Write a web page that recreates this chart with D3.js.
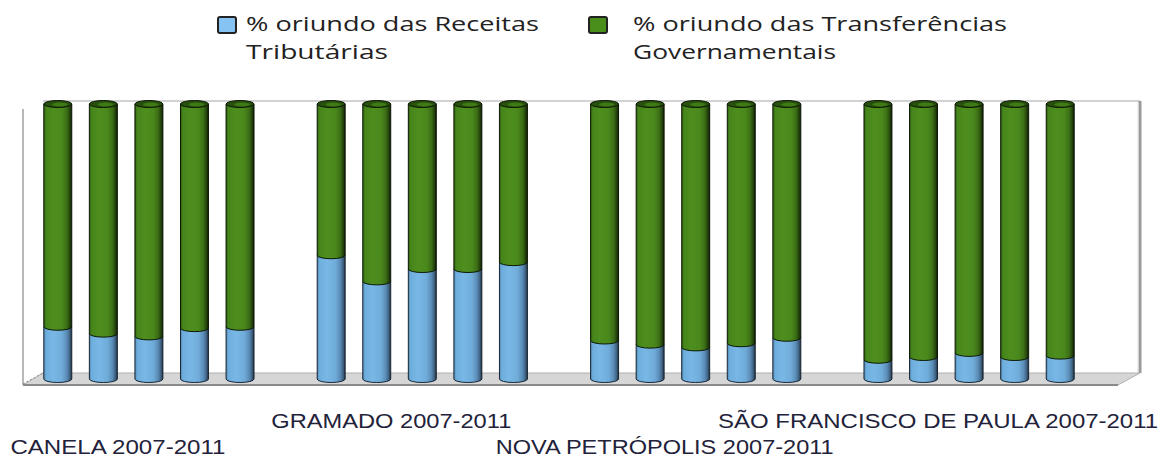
<!DOCTYPE html>
<html>
<head>
<meta charset="utf-8">
<script src="https://cdn.jsdelivr.net/npm/d3@7"></script>
<style>
  html, body { margin: 0; padding: 0; background: #fff; }
  svg { display: block; }
</style>
</head>
<body>
<svg id="chart" width="1172" height="459"></svg>
<script>
// ---- data ----
const groups = ["CANELA 2007-2011", "GRAMADO 2007-2011", "NOVA PETRÓPOLIS 2007-2011", "SÃO FRANCISCO DE PAULA 2007-2011"];
const years = ["2007", "2008", "2009", "2010", "2011"];
const seriesNames = ["% oriundo das Receitas Tributárias", "% oriundo das Transferências Governamentais"];
const legendLines = [["% oriundo das Receitas", "Tributárias"], ["% oriundo das Transferências", "Governamentais"]];
const tributarias = [
  [19.0, 16.5, 15.5, 18.5, 19.0],
  [45.0, 35.5, 40.0, 40.0, 42.5],
  [14.0, 12.5, 11.5, 13.0, 15.0],
  [7.0, 8.0, 9.5, 8.0, 8.5]
];
const transferencias = [
  [81.0, 83.5, 84.5, 81.5, 81.0],
  [55.0, 64.5, 60.0, 60.0, 57.5],
  [86.0, 87.5, 88.5, 87.0, 85.0],
  [93.0, 92.0, 90.5, 92.0, 91.5]
];

// ---- styles ----
const labelWidths = [215, 240, 338, 440];
const legendWidths = [[293, 142], [374, 203]];

const svg = d3.select("#chart");
const defs = svg.append("defs");

function cylGrad(id, stops) {
  const g = defs.append("linearGradient").attr("id", id).attr("x1", "0%").attr("x2", "100%").attr("y1", "0%").attr("y2", "0%");
  stops.forEach(s => g.append("stop").attr("offset", s[0]).attr("stop-color", s[1]));
}
cylGrad("gBlue", [["0%", "#4f84ad"], ["8%", "#6eaedc"], ["35%", "#78b7e6"], ["65%", "#70acd9"], ["82%", "#5b8db8"], ["93%", "#3f6282"], ["100%", "#1c2c3a"]]);
cylGrad("gGreen", [["0%", "#2e5b10"], ["8%", "#46851a"], ["35%", "#4e8e1e"], ["65%", "#4a881c"], ["82%", "#3c6f16"], ["93%", "#24440c"], ["100%", "#0b1604"]]);

const y = d3.scaleLinear().domain([0, 100]).range([379, 104]);
const x0 = d3.scaleBand().domain(groups).range([35, 1083]).paddingInner(0.1667).paddingOuter(0);
const x1 = d3.scaleBand().domain(years).range([0, x0.bandwidth()]).paddingInner(0.386).paddingOuter(0.193);

// ---- walls / floor ----
const wallL = 43, wallR = 1140, wallT = 101, floorT = 373, floorB = 385, axisX = 23;
svg.append("line").attr("x1", wallL).attr("x2", wallR).attr("y1", wallT).attr("y2", wallT)
  .attr("stroke", "#c4c4c4").attr("stroke-width", 1.5);
svg.append("line").attr("x1", wallR).attr("x2", wallR).attr("y1", wallT).attr("y2", floorT)
  .attr("stroke", "#9a9a9a").attr("stroke-width", 3);
svg.append("line").attr("x1", wallR - 2).attr("x2", wallR - 2).attr("y1", wallT + 1).attr("y2", floorT)
  .attr("stroke", "#dcdcdc").attr("stroke-width", 1);
svg.append("polygon")
  .attr("points", [[axisX, floorB], [wallR - 22, floorB], [wallR, floorT], [wallL, floorT]].map(p => p.join(",")).join(" "))
  .attr("fill", "#d6d6d6").attr("stroke", "#b0b0b0").attr("stroke-width", 1);
svg.append("line").attr("x1", axisX).attr("x2", wallR - 22).attr("y1", floorB).attr("y2", floorB)
  .attr("stroke", "#8a8a8a").attr("stroke-width", 2);
svg.append("line").attr("x1", axisX).attr("x2", axisX).attr("y1", 109).attr("y2", floorB)
  .attr("stroke", "#a0a0a0").attr("stroke-width", 1.5);
svg.append("line").attr("x1", axisX).attr("x2", wallL).attr("y1", floorB - 1).attr("y2", floorT)
  .attr("stroke", "#888").attr("stroke-width", 1).attr("stroke-dasharray", "2,2");

// ---- bars (stacked cylinders) ----
const stackKeys = ["trib", "transf"];
const rows = [];
groups.forEach((g, gi) => years.forEach((yr, yi) => {
  rows.push({ group: g, year: yr, trib: tributarias[gi][yi], transf: transferencias[gi][yi] });
}));
const stacked = d3.stack().keys(stackKeys)(rows);
const ry = 3.5;

function segPath(cx, rx, yTop, yBot) {
  return `M${cx - rx},${yTop} L${cx - rx},${yBot} A${rx},${ry} 0 0 0 ${cx + rx},${yBot} L${cx + rx},${yTop} Z`;
}

const barG = svg.append("g");
rows.forEach((r, i) => {
  const cx = x0(r.group) + x1(r.year) + x1.bandwidth() / 2;
  const rx = x1.bandwidth() / 2;
  const g = barG.append("g");
  const sb = stacked[0][i];
  g.append("path").attr("d", segPath(cx, rx, y(sb[1]), y(sb[0])))
    .attr("fill", "url(#gBlue)").attr("stroke", "#1a2633").attr("stroke-width", 1);
  const sg = stacked[1][i];
  g.append("path").attr("d", segPath(cx, rx, y(sg[1]), y(sg[0])))
    .attr("fill", "url(#gGreen)").attr("stroke", "#0c1805").attr("stroke-width", 1);
  g.append("ellipse").attr("cx", cx).attr("cy", y(sg[1])).attr("rx", rx).attr("ry", ry)
    .attr("fill", "#28500d").attr("stroke", "#0c1805").attr("stroke-width", 1);
  g.append("ellipse").attr("cx", cx + 2).attr("cy", y(sg[1]) + 0.5).attr("rx", rx * 0.55).attr("ry", ry * 0.55)
    .attr("fill", "#3f7a17");
});

// ---- category labels ----
svg.append("g").selectAll("text").data(groups).join("text")
  .attr("x", d => x0(d) + x0.bandwidth() / 2 - 31)
  .attr("y", (d, i) => i % 2 === 0 ? 454 : 428)
  .attr("text-anchor", "middle")
  .attr("font-family", "Liberation Sans, Arial, sans-serif")
  .attr("font-size", 21)
  .attr("fill", "#22223a")
  .attr("textLength", (d, i) => labelWidths[i])
  .attr("lengthAdjust", "spacingAndGlyphs")
  .text(d => d);

// ---- legend ----
const legendColor = d3.scaleOrdinal().domain(seriesNames).range(["#86c3f2", "#4a8f1c"]);
const legendX = [218, 589];
const leg = svg.append("g").selectAll("g").data(seriesNames).join("g")
  .attr("transform", (d, i) => `translate(${legendX[i]},0)`);
leg.append("rect").attr("x", 0).attr("y", 17).attr("width", 18).attr("height", 16).attr("rx", 2)
  .attr("fill", d => legendColor(d)).attr("stroke", "#222").attr("stroke-width", 2);
leg.each(function (d, i) {
  const t = d3.select(this);
  legendLines[i].forEach((line, li) => {
    t.append("text")
      .attr("x", i === 0 ? 28 : 44)
      .attr("y", 31 + li * 28)
      .attr("font-family", "Open Sans, Noto Sans, sans-serif")
      .attr("font-size", 20)
      .attr("fill", "#222")
      .attr("textLength", legendWidths[i][li])
      .attr("lengthAdjust", "spacingAndGlyphs")
      .text(line);
  });
});
</script>
</body>
</html>
